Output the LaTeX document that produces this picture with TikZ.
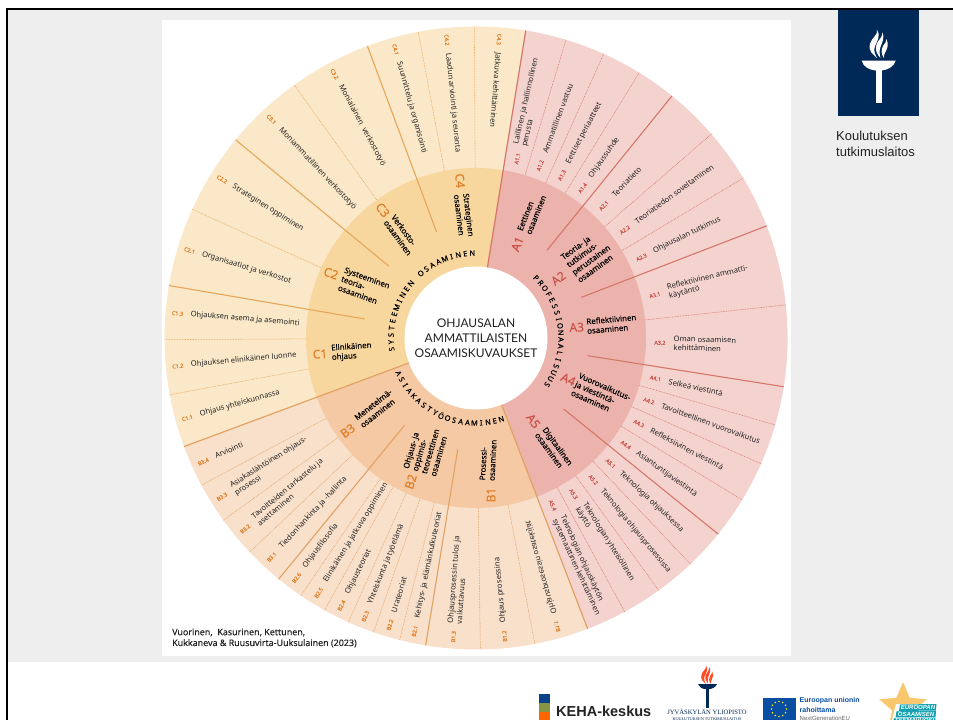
\documentclass[tikz,border=0pt]{standalone}
\usepackage{fontspec}
\usepackage{graphicx}
\setmainfont{Lato}
\newfontfamily\arial{Liberation Sans}
\newfontfamily\tms{Liberation Serif}
\newfontfamily\wheel{Noto Sans}
\usetikzlibrary{shapes.geometric,calc}
\definecolor{Aout}{HTML}{F4D3CF}\definecolor{Amid}{HTML}{EBB3AB}\definecolor{Aline}{HTML}{D5766B}\definecolor{Acode}{HTML}{C9524A}
\definecolor{Bout}{HTML}{F8E0CB}\definecolor{Bmid}{HTML}{F4C9A3}\definecolor{Bline}{HTML}{E2A264}\definecolor{Bcode}{HTML}{E07D25}
\definecolor{Cout}{HTML}{FAE8C8}\definecolor{Cmid}{HTML}{F8D79E}\definecolor{Cline}{HTML}{E6A65C}\definecolor{Ccode}{HTML}{E07D25}
\definecolor{pagegray}{HTML}{EEEEEE}\definecolor{navy}{HTML}{002957}\definecolor{ink}{HTML}{222222}
\definecolor{euBlue}{HTML}{0A4EA2}\definecolor{teal}{HTML}{12A0B0}\definecolor{starcol}{HTML}{F9C86E}
\newcounter{itemctr}
\tikzset{
 itemlab/.style={inner sep=0pt,font=\wheel\fontsize{7.6}{8.8}\selectfont,text=ink,align=left},
 codelab/.style={inner sep=0pt,font=\wheel\fontsize{5.4}{6}\selectfont\addfontfeature{FakeBold=0.15}},
 midlab/.style={inner sep=0pt,font=\wheel\fontsize{7.9}{9.4}\selectfont\addfontfeature{FakeBold=0.03},text=black,align=left},
 bigcode/.style={inner sep=0pt,font=\wheel\fontsize{12}{14}\selectfont\addfontfeature{FakeBold=0.1}},
 ringletter/.style={inner sep=0pt,font=\wheel\fontsize{7.4}{8}\selectfont\addfontfeature{FakeBold=0.35},text=black},
 dotline/.style={line width=0.55pt,dash pattern=on 0.8pt off 0.8pt},
 solidline/.style={line width=1.1pt},
 mainline/.style={line width=1.2pt}
}
\newcommand\wedgefill[4]{\fill[#1] (#2:#4) arc[start angle=#2,end angle=#3,radius=#4] -- (#3:70pt) arc[start angle=#3,end angle=#2,radius=70pt] -- cycle;}
\newcommand\ritem[4]{\stepcounter{itemctr}%
 \node[codelab,text=#1,rotate=#2] (c\theitemctr) at (#2:184pt) {#3};
 \node[itemlab,rotate=#2,anchor=west] (t\theitemctr) at (#2:197.5pt) {#4};}
\newcommand\litem[4]{\stepcounter{itemctr}%
 \node[codelab,text=#1,rotate=#2+180] (c\theitemctr) at (#2:299.5pt) {#3};
 \node[itemlab,rotate=#2+180,anchor=west] (t\theitemctr) at (#2:286.5pt) {#4};}
\newcommand\flame[1]{%
 \fill[#1] (0,0) .. controls (-3,-3) and (-7,-5) .. (-5,-11) .. controls (-4,-15) and (1,-17) .. (0,-21) .. controls (3,-17) and (0,-12) .. (-1.5,-9) .. controls (-3,-5) and (-1,-2) .. (0,0) -- cycle;
 \fill[#1] (2.5,0) .. controls (0,-3) and (-2,-6) .. (0,-11) .. controls (1.5,-14) and (4,-15) .. (4,-19) .. controls (6,-15) and (3.5,-11) .. (2.5,-8) .. controls (1.5,-5) and (2,-2) .. (2.5,0) -- cycle;
 \fill[#1] (5,0) .. controls (3,-3) and (3,-6) .. (4.5,-9) .. controls (6,-11) and (7,-12) .. (7,-14) .. controls (9,-10) and (7.5,-7) .. (6.5,-5) .. controls (5.5,-3) and (5,-2) .. (5,0) -- cycle;}
\begin{document}
\begin{tikzpicture}[x=1pt,y=-1pt]
\useasboundingbox (0,0) rectangle (953,720);
\fill[white] (0,0) rectangle (953,720);
\fill[pagegray] (8,10) rectangle (953,662);
\fill[black] (5.5,7.5) rectangle (953,10);
\fill[black] (5.5,7.5) rectangle (8,720);
\fill[white] (162,20) rectangle (790.5,655.5);

\begin{scope}[shift={(476,338)}]
% sectors
\wedgefill{Cout}{80.8}{200.4}{311.5pt}
\wedgefill{Bout}{200.4}{291}{311.5pt}
\wedgefill{Aout}{-69}{80.8}{311.5pt}
\wedgefill{Cmid}{80.8}{200.4}{170pt}
\wedgefill{Bmid}{200.4}{291}{170pt}
\wedgefill{Amid}{-69}{80.8}{170pt}
\fill[white] (0,0) circle[radius=71.5pt];
% dotted separators
\foreach \a in {73.2,65.8,58.4,40.9,30.9,6.1,-16.2,-23.8,-31.3,-46.5,-54.1,-61.5}
  \draw[Aline,dotline] (\a:170pt) -- (\a:311.5pt);
\foreach \a in {-79.1,-89.2,255.8,250.8,245.8,240.9,235.8,223.4,215.8,208.2}
  \draw[Bline,dotline] (\a:170pt) -- (\a:311.5pt);
\foreach \a in {190.5,180.3,155.6,125.7,100.7,90.3}
  \draw[Cline,dotline] (\a:170pt) -- (\a:311.5pt);
% solid separators
\foreach \a in {51,21.1,-9,-39} \draw[Aline,solidline] (\a:113pt) -- (\a:311.5pt);
\foreach \a in {260.7,230.7} \draw[Bline,solidline] (\a:113pt) -- (\a:311.5pt);
\foreach \a in {170.3,140.5,110.4} \draw[Cline,solidline] (\a:113pt) -- (\a:311.5pt);
% main boundaries
\draw[Aline,mainline] (80.8:71.5pt) -- (80.8:311.5pt);
\draw[Bline,mainline] (-69:71.5pt) -- (-69:311.5pt);
\draw[Bline,mainline] (200.4:71.5pt) -- (200.4:311.5pt);
% A items
\ritem{Acode}{77}{A1.1}{Laillinen ja hallinnollinen\\perusta}
\ritem{Acode}{69.6}{A1.2}{Ammatillinen vastuu}
\ritem{Acode}{62.2}{A1.3}{Eettiset periaatteet}
\ritem{Acode}{54.6}{A1.4}{Ohjaussuhde}
\ritem{Acode}{46}{A2.1}{Teoriatieto}
\ritem{Acode}{36}{A2.2}{Teoriatiedon soveltaminen}
\ritem{Acode}{26}{A2.3}{Ohjausalan tutkimus}
\ritem{Acode}{13.5}{A3.1}{Reflektiivinen ammatti-\\käytäntö}
\ritem{Acode}{-1.5}{A3.2}{Oman osaamisen\\kehittäminen}
\ritem{Acode}{-12.7}{A4.1}{Selkeä viestintä}
\ritem{Acode}{-20}{A4.2}{Tavoitteellinen vuorovaikutus}
\ritem{Acode}{-27.7}{A4.3}{Refleksiivinen viestintä}
\ritem{Acode}{-35.5}{A4.4}{Asiantuntijaviestintä}
\ritem{Acode}{-43}{A5.1}{Teknologia ohjauksessa}
\ritem{Acode}{-50.4}{A5.2}{Teknologia ohjausprosessissa}
\ritem{Acode}{-58}{A5.3}{Teknologian yhteisöllinen\\käyttö}
\ritem{Acode}{-65.4}{A5.4}{Teknologian ohjauskäytön\\systemaattinen kehittäminen}
% B items
\node[codelab,text=Bcode,rotate=105.7] (b11c) at (285.7:299.5pt) {\scalebox{1}[-1]{B1.1}};
\node[itemlab,rotate=105.7,anchor=west] (b11t) at (285.7:286.5pt) {\scalebox{1}[-1]{Ohjausprosessin osatekijät}};
\litem{Bcode}{275.5}{B1.2}{Ohjaus prosessina}
\litem{Bcode}{265.7}{B1.3}{Ohjausprosessin tulos ja\\vaikuttavuus}
\litem{Bcode}{258.2}{B2.1}{Kehitys- ja elämänkulkuteoriat}
\litem{Bcode}{253.3}{B2.2}{Urateoriat}
\litem{Bcode}{248.3}{B2.3}{Yhteiskunta ja työelämä}
\litem{Bcode}{243.3}{B2.4}{Ohjausteoriat}
\litem{Bcode}{238.3}{B2.5}{Elinikäinen ja jatkuva oppiminen}
\litem{Bcode}{233.2}{B2.6}{Ohjausfilosofia}
\litem{Bcode}{227}{B3.1}{Tiedonhankinta ja -hallinta}
\litem{Bcode}{219.6}{B3.2}{Tavoitteiden tarkastelu ja\\asettaminen}
\litem{Bcode}{212}{B3.3}{Asiakaslähtöinen ohjaus-\\prosessi}
\litem{Bcode}{204.4}{B3.4}{Arviointi}
% C items
\litem{Ccode}{195.5}{C1.1}{Ohjaus yhteiskunnassa}
\litem{Ccode}{185.4}{C1.2}{Ohjauksen elinikäinen luonne}
\litem{Ccode}{175.3}{C1.3}{Ohjauksen asema ja asemointi}
\litem{Ccode}{163}{C2.1}{Organisaatiot ja verkostot}
\litem{Ccode}{148}{C2.2}{Strateginen oppiminen}
\litem{Ccode}{133.1}{C3.1}{Moniammatillinen verkostotyö}
\litem{Ccode}{118.2}{C3.2}{Monialainen\ \ verkostotyö}
\litem{Ccode}{105.6}{C4.1}{Suunnittelu ja organisointi}
\litem{Ccode}{95.6}{C4.2}{Laadun arviointi ja seuranta}
\litem{Ccode}{85.6}{C4.3}{Jatkuva kehittäminen}
% ring headings
\foreach \ch [count=\i from 0] in {S,Y,S,T,E,E,M,I,N,E,N,{},O,S,A,A,M,I,N,E,N}
  \node[ringletter,rotate={187.5-\i*4.75-90}] (sl\i) at ({187.5-\i*4.75}:85pt) {\ch};
\foreach \ch [count=\i from 0] in {P,R,O,F,E,S,S,I,O,N,A,A,L,I,S,U,U,S}
  \node[ringletter,rotate={45-\i*4.6-90}] (pl\i) at ({45-\i*4.6}:85pt) {\ch};
\foreach \ch [count=\i from 0] in {A,S,I,A,K,A,S,T,Y,Ö,O,S,A,A,M,I,N,E,N}
  \node[ringletter,rotate={204.5+\i*4.6+90}] (al\i) at ({204.5+\i*4.6}:85pt) {\ch};
\end{scope}

% middle ring labels (pixel positions)
\node[bigcode,text=Acode,rotate=68] (A1) at (517.3,244) {A1};
\node[midlab,rotate=68] (A1t) at (531.7,213) {Eettinen\\osaaminen};
\node[bigcode,text=Acode,rotate=37] (A2) at (558.3,278.3) {A2};
\node[midlab,rotate=36] (A2t) at (588.3,256) {Teoria- ja\\tutkimus-\\perustainen\\osaaminen};
\node[bigcode,text=Acode,rotate=3] (A3) at (576.7,327.3) {A3};
\node[midlab,rotate=5] (A3t) at (611.7,324) {Reflektiivinen\\osaaminen};
\node[bigcode,text=Acode,rotate=-25] (A4) at (568.3,379.3) {A4};
\node[midlab,rotate=-24] (A4t) at (601,395) {Vuorovaikutus-\\ja viestintä-\\osaaminen};
\node[bigcode,text=Acode,rotate=-54] (A5) at (533.3,421) {A5};
\node[midlab,rotate=-54] (A5t) at (554,449) {Digitaalinen\\osaaminen};
\node[bigcode,text=Bcode,rotate=90] (B1) at (491,495) {B1};
\node[midlab,rotate=87] (B1t) at (488,460) {Prosessi-\\osaaminen};
\node[bigcode,text=Bcode,rotate=73] (B2) at (410.7,481.7) {B2};
\node[midlab,rotate=74] (B2t) at (425.7,450) {Ohjaus- ja\\oppimis-\\teoreettinen\\osaaminen};
\node[bigcode,text=Bcode,rotate=37] (B3) at (347.7,430.7) {B3};
\node[midlab,rotate=38] (B3t) at (376,408.3) {Menetelmä-\\osaaminen};
\node[bigcode,text=Ccode,rotate=4] (C1) at (320,354) {C1};
\node[midlab,rotate=4] (C1t) at (351.7,351.7) {Elinikäinen\\ohjaus};
\node[bigcode,text=Ccode,rotate=-20] (C2) at (331,273.3) {C2};
\node[midlab,rotate=-20] (C2t) at (364,286.7) {Systeeminen\\teoria-\\osaaminen};
\node[bigcode,text=Ccode,rotate=-53] (C3) at (382.7,210) {C3};
\node[midlab,rotate=-54] (C3t) at (401.7,235) {Verkosto-\\osaaminen};
\node[bigcode,text=Ccode,rotate=-85] (C4) at (460,180.7) {C4};
\node[midlab,rotate=-83] (C4t) at (464,215.5) {Strateginen\\osaaminen};

% centre title
\node[align=center,inner sep=0pt,font=\fontsize{12}{15}\selectfont,text=ink] (title) at (476,338) {OHJAUSALAN\\AMMATTILAISTEN\\OSAAMISKUVAUKSET};
% citation
\node[anchor=west,align=left,inner sep=0pt,font=\wheel\fontsize{8.9}{10.8}\selectfont\addfontfeature{FakeBold=0.03},text=ink] (cite) at (172,638) {Vuorinen,\ \ Kasurinen, Kettunen,\\Kukkaneva \& Ruusuvirta-Uuksulainen (2023)};

% JYU logo top right
\fill[navy] (838,10) rectangle (919,116);
\begin{scope}[shift={(877,58)},scale=1.35]
 \flame{white}
\end{scope}
\fill[white] (861.7,60.7) -- (895.7,60.7) .. controls (894,67) and (887,70) .. (881.7,70.5) -- (875.7,70.5) .. controls (870,70) and (863,67) .. (861.7,60.7) -- cycle;
\fill[white] (875.7,70) rectangle (881.7,103);
\node[anchor=north west,align=left,inner sep=0pt,font=\arial\fontsize{13}{16}\selectfont,text=ink] (inst) at (836,131) {Koulutuksen\\tutkimuslaitos};

% footer: KEHA
\fill[euBlue!85!black] (538.5,694) rectangle (549.5,703);
\fill[olive!70!green!60!gray] (538.5,703) rectangle (549.5,711.5);
\fill[orange!80!red] (538.5,711.5) rectangle (549.5,720);
\node[anchor=west,inner sep=0pt,font=\arial\fontsize{14.5}{16}\selectfont\bfseries,text=ink] (keha) at (556,711) {KEHA-keskus};
% footer: JYU
\begin{scope}[shift={(706,684)},scale=0.88]
 \flame{red!65!orange!85!white}
\end{scope}
\fill[navy] (698,684) -- (717,684) .. controls (716,687) and (712,689) .. (709.5,689) -- (705.5,689) .. controls (702,689) and (699,687) .. (698,684) -- cycle;
\fill[navy] (705.8,688) rectangle (709.2,708);
\node[inner sep=0pt,font=\tms\fontsize{6.6}{8}\selectfont,text=navy] (jyu) at (707,712) {JYVÄSKYLÄN YLIOPISTO};
\begin{scope}
\clip (600,714) rectangle (800,720);
\node[inner sep=0pt,font=\tms\fontsize{4.2}{5}\selectfont,text=navy] (jyu2) at (707,719) {KOULUTUKSEN TUTKIMUSLAITOS};
\end{scope}
% footer: EU
\fill[euBlue] (762.5,698) rectangle (796,720);
\foreach \s in {0,30,...,330} \fill[yellow!90!orange] ($(779,709)+(\s:7.5pt)$) circle[radius=0.8pt];
\node[anchor=west,inner sep=0pt,font=\arial\fontsize{7}{8}\selectfont\bfseries,text=euBlue] (eu1) at (799.5,701) {Euroopan unionin};
\node[anchor=west,inner sep=0pt,font=\arial\fontsize{7}{8}\selectfont\bfseries,text=euBlue] (eu2) at (799.5,709.5) {rahoittama};
\begin{scope}
\clip (795,713) rectangle (870,720);
\node[anchor=west,inner sep=0pt,font=\arial\fontsize{6}{7}\selectfont,text=black!60] (eu3) at (799.5,718) {NextGenerationEU};
\end{scope}
% footer: star
\node[star,star points=5,star point ratio=2.2,minimum size=50pt,inner sep=0pt,fill=starcol,draw=none] (star) at (903,707) {};
\begin{scope}
\clip (880,700) rectangle (953,720);
\fill[white] (896,704) -- (938,704) -- (936,720) -- (892,720) -- cycle;
\fill[teal] (900,704.5) -- (936.5,704) -- (935.8,710.5) -- (899,711) -- cycle;
\fill[teal] (896.5,711.3) -- (936,710.8) -- (935.5,717) -- (895.5,717.5) -- cycle;
\fill[teal] (894,718) -- (935.5,717.6) -- (935,722) -- (893,722) -- cycle;
\node[inner sep=0pt,font=\arial\fontsize{6}{7}\selectfont\bfseries\itshape,text=white] (st1) at (918,707.5) {EUROOPAN};
\node[inner sep=0pt,font=\arial\fontsize{6}{7}\selectfont\bfseries\itshape,text=white] (st2) at (916,714) {OSAAMISEN};
\node[inner sep=0pt,font=\arial\fontsize{6}{7}\selectfont\bfseries\itshape,text=white] (st3) at (914.5,720.5) {TEEMAVUOSI};
\end{scope}
\end{tikzpicture}
\end{document}
